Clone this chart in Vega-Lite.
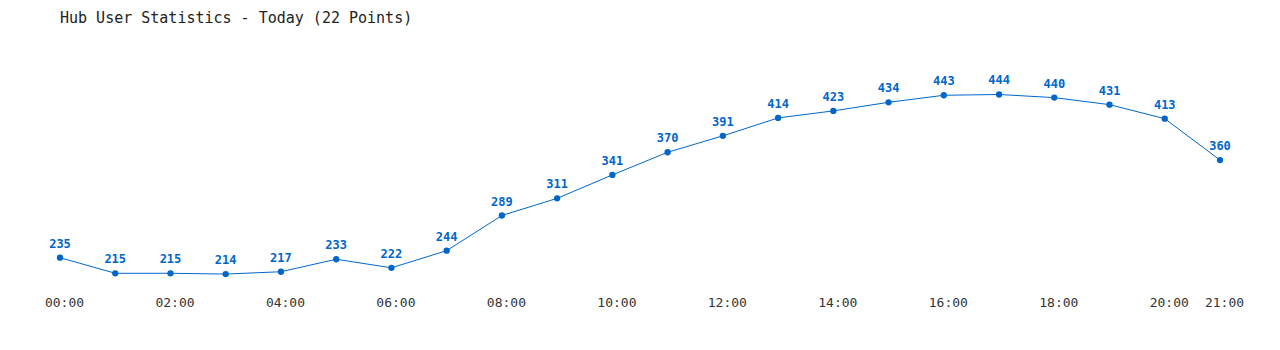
{
  "$schema": "https://vega.github.io/schema/vega-lite/v6.json",
  "autosize": "none",
  "width": 1160,
  "height": 203,
  "padding": {"left": 60, "top": 82, "right": 60, "bottom": 65},
  "background": "white",
  "title": {"text": "Hub User Statistics - Today (22 Points)", "anchor": "start", "frame": "group", "offset": 58, "dy": 10, "font": "DejaVu Sans Mono", "fontSize": 15, "fontWeight": "normal", "color": "#222222"},
  "config": {"view": {"stroke": null}},
  "data": {"values": [
    {"h": 0, "v": 235}, {"h": 1, "v": 215}, {"h": 2, "v": 215}, {"h": 3, "v": 214},
    {"h": 4, "v": 217}, {"h": 5, "v": 233}, {"h": 6, "v": 222}, {"h": 7, "v": 244},
    {"h": 8, "v": 289}, {"h": 9, "v": 311}, {"h": 10, "v": 341}, {"h": 11, "v": 370},
    {"h": 12, "v": 391}, {"h": 13, "v": 414}, {"h": 14, "v": 423}, {"h": 15, "v": 434},
    {"h": 16, "v": 443}, {"h": 17, "v": 444}, {"h": 18, "v": 440}, {"h": 19, "v": 431},
    {"h": 20, "v": 413}, {"h": 21, "v": 360}
  ]},
  "encoding": {
    "x": {"field": "h", "type": "quantitative", "scale": {"domain": [0, 21], "nice": false, "zero": false},
      "axis": {"title": null, "domain": false, "ticks": false, "grid": false, "values": [0,2,4,6,8,10,12,14,16,18,20,21],
        "labelExpr": "(datum.value < 10 ? '0' : '') + datum.value + ':00'", "labelFont": "DejaVu Sans Mono", "labelFontSize": 13, "labelColor": "#333333", "labelPadding": 11, "labelOffset": 4, "labelFlush": false, "labelOverlap": false}},
    "y": {"field": "v", "type": "quantitative", "scale": {"domain": [200, 460], "nice": false, "zero": false}, "axis": null}
  },
  "layer": [
    {"mark": {"type": "line", "color": "#0066cc", "strokeWidth": 1}},
    {"mark": {"type": "point", "filled": true, "color": "#0066cc", "size": 40, "opacity": 1}},
    {"mark": {"type": "text", "color": "#0066cc", "font": "DejaVu Sans Mono", "fontSize": 12, "fontWeight": "bold", "dy": -14}, "encoding": {"text": {"field": "v"}}}
  ]
}
